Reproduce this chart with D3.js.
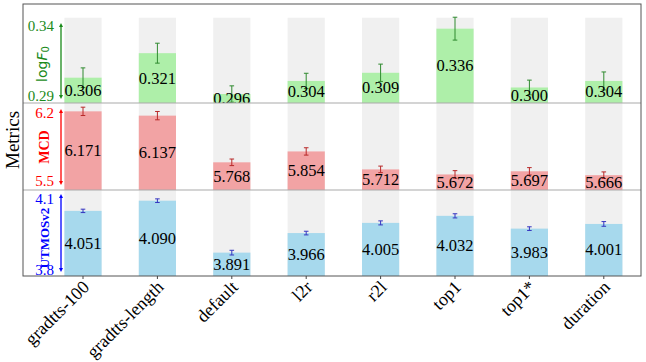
<!DOCTYPE html>
<html>
<head>
<meta charset="utf-8" />
<title>Metrics</title>
<script src="https://cdn.jsdelivr.net/npm/d3@7"></script>
<style>
  body { margin: 0; background: #fff; }
</style>
</head>
<body>
<svg id="chart"></svg>
<script>
// data
var categories = ["gradtts-100", "gradtts-length", "default", "l2r", "r2l", "top1", "top1*", "duration"];
var f0Vals    = [0.306, 0.321, 0.296, 0.304, 0.309, 0.336, 0.300, 0.304];
var f0Err     = [0.0060, 0.0061, 0.0050, 0.0047, 0.0053, 0.0070, 0.0045, 0.0055];
var mcdVals   = [6.171, 6.137, 5.768, 5.854, 5.712, 5.672, 5.697, 5.666];
var mcdErr    = [0.033, 0.033, 0.026, 0.029, 0.026, 0.030, 0.029, 0.026];
var utmosVals = [4.051, 4.090, 3.891, 3.966, 4.005, 4.032, 3.983, 4.001];
var utmosErr  = [0.0065, 0.0070, 0.0090, 0.0070, 0.0077, 0.0080, 0.0070, 0.0090];
var axisLabels = [["0.34", "0.29"], ["6.2", "5.5"], ["4.1", "3.8"]];

var SERIF = "'Liberation Serif', 'Times New Roman', 'DejaVu Serif', serif";
var W = 646, H = 362;
var frame = { left: 23, right: 641, top: 4, bottom: 276 };

var svg = d3.select("#chart").attr("width", W).attr("height", H);

var x = d3.scaleBand()
    .domain(categories)
    .range([45.8, 641])
    .paddingInner(0.5)
    .paddingOuter(0.25);

var panels = [
  { vals: f0Vals, err: f0Err, top: 4, bottom: 103, domain: [0.2905, 0.3511], bgTop: 0.3427,
    fill: "#aeefa9", errColor: "#2f8a2f", color: "#1a8a1a", arrow: [23, 99], lab: [26, 95.5], title: "log" },
  { vals: mcdVals, err: mcdErr, top: 103, bottom: 190, domain: [5.549, 6.237], bgTop: 6.237,
    fill: "#f2a3a4", errColor: "#b82828", color: "#ff0000", arrow: [109, 185], lab: [113, 181], title: "MCD" },
  { vals: utmosVals, err: utmosErr, top: 190, bottom: 276, domain: [3.8015, 4.131], bgTop: 4.131,
    fill: "#a7d9ed", errColor: "#3535c0", color: "#0000ff", arrow: [194, 272], lab: [199, 270], title: "UTMOSv2" }
];

var defs = svg.append("defs");
panels.forEach(function(p, i) {
  defs.append("clipPath").attr("id", "clip" + i)
    .append("rect")
      .attr("x", frame.left).attr("y", p.top)
      .attr("width", frame.right - frame.left).attr("height", p.bottom - p.top);
  ["s", "e"].forEach(function(k) {
    defs.append("marker")
        .attr("id", "arr" + k + i)
        .attr("viewBox", "0 0 10 10")
        .attr("refX", 5).attr("refY", 5)
        .attr("markerWidth", 4).attr("markerHeight", 4)
        .attr("orient", "auto-start-reverse")
        .attr("markerUnits", "userSpaceOnUse")
      .append("path")
        .attr("d", "M0,0 L10,5 L0,10 z")
        .attr("fill", p.color);
  });
});

panels.forEach(function(p, i) {
  var y = d3.scaleLinear().domain(p.domain).range([p.bottom, p.top]);
  var g = svg.append("g").attr("clip-path", "url(#clip" + i + ")");

  // grey background columns
  g.selectAll(".bg").data(categories).enter().append("rect")
      .attr("x", function(d) { return x(d); })
      .attr("width", x.bandwidth())
      .attr("y", y(p.bgTop))
      .attr("height", p.bottom - y(p.bgTop))
      .attr("fill", "#f0f0f0");

  // bars
  g.selectAll(".bar").data(p.vals).enter().append("rect")
      .attr("x", function(d, j) { return x(categories[j]); })
      .attr("width", x.bandwidth())
      .attr("y", function(d) { return y(d); })
      .attr("height", function(d) { return p.bottom - y(d); })
      .attr("fill", p.fill);

  // error bars
  var eb = g.selectAll(".err").data(p.vals).enter().append("g")
      .attr("stroke", p.errColor).attr("stroke-width", 1);
  eb.append("line")
      .attr("x1", function(d, j) { return x(categories[j]) + x.bandwidth() / 2; })
      .attr("x2", function(d, j) { return x(categories[j]) + x.bandwidth() / 2; })
      .attr("y1", function(d, j) { return y(d - p.err[j]); })
      .attr("y2", function(d, j) { return y(d + p.err[j]); });
  [1, -1].forEach(function(s) {
    eb.append("line")
        .attr("x1", function(d, j) { return x(categories[j]) + x.bandwidth() / 2 - 2.3; })
        .attr("x2", function(d, j) { return x(categories[j]) + x.bandwidth() / 2 + 2.3; })
        .attr("y1", function(d, j) { return y(d + s * p.err[j]); })
        .attr("y2", function(d, j) { return y(d + s * p.err[j]); });
  });

  // value labels
  g.selectAll(".val").data(p.vals).enter().append("text")
      .attr("x", function(d, j) { return x(categories[j]) + x.bandwidth() / 2; })
      .attr("y", function(d) { return (y(d) + p.bottom) / 2; })
      .attr("text-anchor", "middle")
      .attr("dominant-baseline", "central")
      .style("font-family", SERIF)
      .style("font-size", "16.5px")
      .attr("fill", "#000")
      .text(function(d) { return d.toFixed(3); });

  // range arrow
  svg.append("line")
      .attr("x1", 61).attr("x2", 61)
      .attr("y1", p.arrow[0] + 2).attr("y2", p.arrow[1] - 2)
      .attr("stroke", p.color).attr("stroke-width", 1.3)
      .attr("marker-start", "url(#arrs" + i + ")")
      .attr("marker-end", "url(#arre" + i + ")");

  svg.selectAll(null).data(axisLabels[i]).enter().append("text")
      .attr("x", 54)
      .attr("y", function(d, k) { return p.lab[k]; })
      .attr("text-anchor", "end")
      .attr("dominant-baseline", "central")
      .style("font-family", SERIF)
      .style("font-size", "15px")
      .attr("fill", p.color)
      .text(function(d) { return d; });

  var cy = i === 0 ? 64 : (i === 1 ? 147 : 238);
  var t = svg.append("text")
      .attr("transform", "translate(" + (i === 0 ? 42 : 44) + "," + cy + ") rotate(-90)")
      .attr("text-anchor", "middle")
      .attr("dominant-baseline", "central")
      .attr("fill", p.color);
  if (i === 0) {
    t.style("font-family", "'DejaVu Sans', sans-serif").style("font-size", "14px");
    t.append("tspan").text("log");
    t.append("tspan").style("font-style", "italic").text("F");
    t.append("tspan").style("font-size", "10px").attr("dy", 3).text("0");
  } else {
    t.style("font-family", SERIF).style("font-size", i === 1 ? "14px" : "13px")
      .style("font-weight", "bold").text(p.title);
  }
});

// panel separators
[103, 190].forEach(function(yy) {
  svg.append("line")
      .attr("x1", frame.left).attr("x2", frame.right)
      .attr("y1", yy).attr("y2", yy)
      .attr("stroke", "#aaa").attr("stroke-width", 1.2);
});

// frame
svg.append("rect")
    .attr("x", frame.left).attr("y", frame.top)
    .attr("width", frame.right - frame.left).attr("height", frame.bottom - frame.top)
    .attr("fill", "none").attr("stroke", "#555").attr("stroke-width", 1);

// x axis ticks
var xAxis = svg.append("g")
    .attr("transform", "translate(0," + frame.bottom + ")")
    .call(d3.axisBottom(x).tickSize(3).tickSizeOuter(0).tickFormat(""));
xAxis.select(".domain").remove();
xAxis.selectAll(".tick line").attr("stroke", "#444");

// rotated category labels
svg.append("g").selectAll("text").data(categories).enter().append("text")
    .attr("transform", function(d) {
      return "translate(" + (x(d) + x.bandwidth() / 2 + 3) + "," + (frame.bottom + 8) + ") rotate(-45)";
    })
    .attr("text-anchor", "end")
    .attr("dominant-baseline", "central")
    .style("font-family", SERIF)
    .style("font-size", "18px")
    .attr("fill", "#000")
    .text(function(d) { return d; });

// y title
svg.append("text")
    .attr("transform", "translate(12,140) rotate(-90)")
    .attr("text-anchor", "middle")
    .attr("dominant-baseline", "central")
    .style("font-family", SERIF)
    .style("font-size", "19px")
    .text("Metrics");
</script>
</body>
</html>
